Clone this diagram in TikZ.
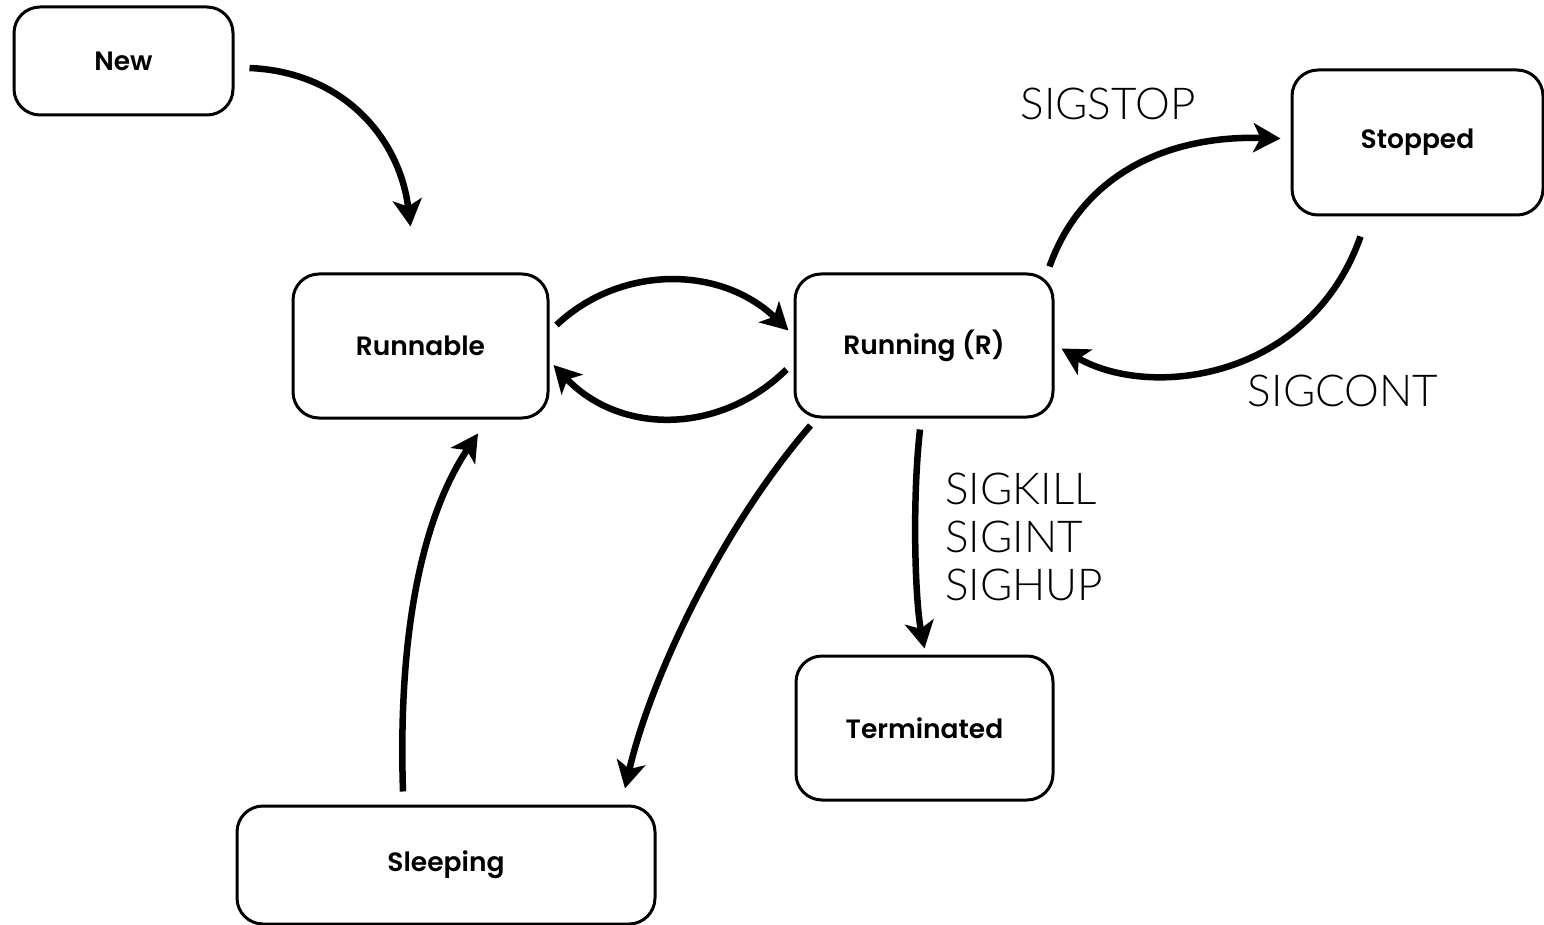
\documentclass[tikz,border=0pt]{standalone}
\usepackage{fontspec}
\usetikzlibrary{arrows.meta,calc}
\newfontfamily\boxfont{Poppins}[UprightFont={* SemiBold}]
\newfontfamily\sigfont{Lato}[UprightFont={* Light}]
\begin{document}
\begin{tikzpicture}[x=1pt,y=-1pt,
  state/.style={draw=black,line width=3pt,rounded corners=26pt,fill=white,
    inner sep=0pt,font=\boxfont\fontsize{26.5}{30}\selectfont},
  arr/.style={line width=6.5pt,-{Stealth[length=27pt,width=29pt,inset=7pt]}},
  sig/.style={font=\sigfont\fontsize{44}{48}\selectfont,inner sep=0pt}]
\useasboundingbox (0,0) rectangle (1544,925);
% states
\node[state,minimum width=219pt,minimum height=108pt] (new) at (123.5,61) {New};
\node[state,minimum width=255pt,minimum height=144pt] (runnable) at (420.5,346) {Runnable};
\node[state,minimum width=258pt,minimum height=143pt] (running) at (924,345.5) {Running (R)};
\node[state,minimum width=251pt,minimum height=145pt] (stopped) at (1417.5,142.5) {Stopped};
\node[state,minimum width=257pt,minimum height=144pt] (terminated) at (924.5,728) {Terminated};
\node[state,minimum width=418pt,minimum height=118pt] (sleeping) at (446,865) {Sleeping};
% transitions
\draw[arr] ($(new.east)+(15,7)$) .. controls (345,72) and (400,140) .. ($(runnable.north)+(-10,-46)$);
\draw[arr] ($(runnable.east)+(7,-21)$) .. controls (620,265) and (720,265) .. ($(running.west)+(-5,-15)$);
\draw[arr] ($(running.west)+(-7,24)$) .. controls (720,435) and (620,435) .. ($(runnable.east)+(4,19)$);
\draw[arr] ($(running.north east)+(-5,-6)$) .. controls (1080,180) and (1160,135) .. ($(stopped.west)+(-10,-4)$);
\draw[arr] ($(stopped.south)+(-57,20)$) .. controls (1310,380) and (1150,400) .. ($(running.east)+(7,3)$);
\draw[arr] ($(running.south)+(-4,11)$) .. controls (912,500) and (915,600) .. ($(terminated.north)+(0,-6)$);
\draw[arr] ($(running.south west)+(17,7)$) .. controls (720,530) and (650,680) .. ($(sleeping.north)+(179,-16)$);
\draw[arr] ($(sleeping.north)+(-43,-13)$) .. controls (398,640) and (420,520) .. ($(runnable.south)+(57.5,14)$);
% signal labels
\node[sig] (lstop) at (1108,104) {SIGSTOP};
\node[sig] (lcont) at (1343,391) {SIGCONT};
\node[sig,anchor=west,align=left] (lkill) at (945,537) {SIGKILL\\SIGINT\\SIGHUP};
\end{tikzpicture}
\end{document}
